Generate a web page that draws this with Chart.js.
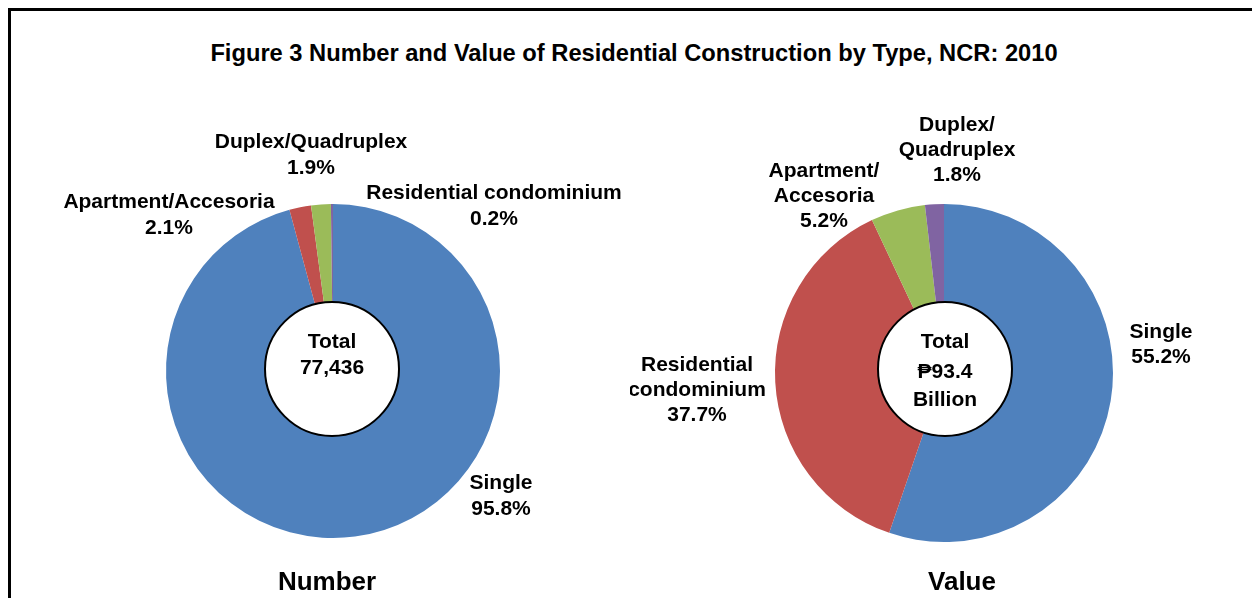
<!DOCTYPE html>
<html>
<head>
<meta charset="utf-8">
<script src="https://cdn.jsdelivr.net/npm/chart.js@4/dist/chart.umd.min.js"></script>
<style>
    html, body { margin: 0; padding: 0; background: #fff; }
    #page { position: relative; width: 1252px; height: 598px; overflow: hidden; font-family: "Liberation Sans", Arial, "DejaVu Sans", sans-serif; }
    #frame { position: absolute; left: 8px; top: 8px; width: 1300px; height: 700px; border: 3px solid #000; box-sizing: border-box; }
    #title { position: absolute; left: 0; width: 1268px; top: 39px; text-align: center; font-weight: bold; font-size: 23.7px; line-height: 28px; color: #000; white-space: nowrap; }
    canvas { position: absolute; top: 0; }
</style>
</head>
<body>
<div id="page">
    <div id="frame"></div>
    <div id="title">Figure 3 Number and Value of Residential Construction by Type, NCR: 2010</div>
    <canvas id="chart-number" width="630" height="598" style="left:0px;width:630px;height:598px"></canvas>
    <canvas id="chart-value" width="622" height="598" style="left:630px;width:622px;height:598px"></canvas>
</div>
<script>
// data
const numberCategories = ['Single', 'Apartment/Accesoria', 'Duplex/Quadruplex', 'Residential condominium'];
const numberShares = [95.8, 2.1, 1.9, 0.2];
const numberTotal = ['Total', '77,436'];

const valueCategories = ['Single', 'Residential\ncondominium', 'Apartment/\nAccesoria', 'Duplex/\nQuadruplex'];
const valueShares = [55.2, 37.7, 5.2, 1.8];
const valueTotal = ['Total', '\u20B193.4', 'Billion'];

const sliceColors = ['#4F81BD', '#C0504D', '#9BBB59', '#8064A2'];
const FONT = '"Liberation Sans", Arial, "DejaVu Sans", sans-serif';

// where the pies and their texts sit (canvas pixels)
const numberLayout = {
    center: [333, 371], radius: 167,
    hole: { dx: -1, dy: -2, r: 67, lines: [342, 368] },
    labels: [[501, 483], [169, 202], [311, 142], [494, 193]],
    lineHeight: 26,
    caption: { text: 'Number', x: 327, y: 583 }
};
const valueLayout = {
    center: [314, 373], radius: 169,
    hole: { dx: 1, dy: -4, r: 67, lines: [342, 372, 400] },
    labels: [[531, 332], [67, 365], [194, 171], [327, 125]],
    lineHeight: 25,
    caption: { text: 'Value', x: 332, y: 583 }
};

const pieText = {
    id: 'pieText',
    afterDatasetsDraw(chart, args, opts) {
        const ctx = chart.ctx;
        const arc = chart.getDatasetMeta(0).data[0];
        const L = opts.layout;
        ctx.save();
        // white centre disc
        ctx.beginPath();
        ctx.arc(arc.x + L.hole.dx, arc.y + L.hole.dy, L.hole.r, 0, Math.PI * 2);
        ctx.fillStyle = '#fff';
        ctx.fill();
        ctx.lineWidth = 2;
        ctx.strokeStyle = '#000';
        ctx.stroke();

        ctx.fillStyle = '#000';
        ctx.textAlign = 'center';
        ctx.textBaseline = 'middle';
        ctx.font = 'bold 21px ' + FONT;
        opts.total.forEach((t, i) => {
            ctx.fillText(t, arc.x + L.hole.dx, L.hole.lines[i]);
        });

        // slice labels
        const cats = chart.data.labels;
        const vals = chart.data.datasets[0].data;
        cats.forEach((c, i) => {
            const lines = c.split('\n').concat([vals[i].toFixed(1) + '%']);
            const [x, y] = L.labels[i];
            lines.forEach((ln, j) => ctx.fillText(ln, x, y + j * L.lineHeight));
        });

        ctx.font = 'bold 26px ' + FONT;
        ctx.fillText(L.caption.text, L.caption.x, L.caption.y);
        ctx.restore();
    }
};

function makePie(id, cats, shares, total, L, width) {
    const ctx = document.getElementById(id).getContext('2d');
    return new Chart(ctx, {
        type: 'pie',
        data: {
            labels: cats,
            datasets: [{
                data: shares,
                backgroundColor: sliceColors,
                borderWidth: 0,
                radius: L.radius
            }]
        },
        options: {
            responsive: false,
            animation: false,
            events: [],
            layout: {
                padding: {
                    left: L.center[0] - L.radius,
                    right: width - L.center[0] - L.radius,
                    top: L.center[1] - L.radius,
                    bottom: 598 - L.center[1] - L.radius
                }
            },
            plugins: {
                legend: { display: false },
                tooltip: { enabled: false },
                pieText: { layout: L, total: total }
            }
        },
        plugins: [pieText]
    });
}

makePie('chart-number', numberCategories, numberShares, numberTotal, numberLayout, 630);
makePie('chart-value', valueCategories, valueShares, valueTotal, valueLayout, 622);
</script>
</body>
</html>
